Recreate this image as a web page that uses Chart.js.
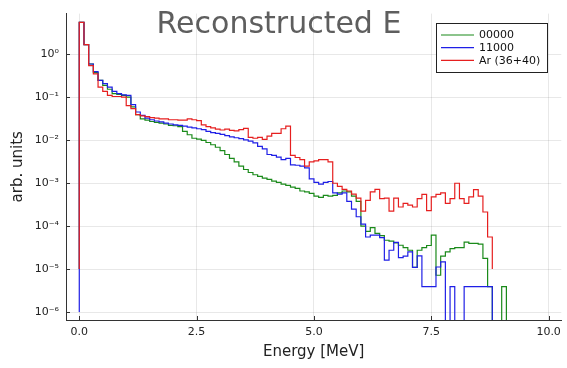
<!DOCTYPE html>
<html><head><meta charset="utf-8">
<script src="https://cdn.jsdelivr.net/npm/chart.js@4/dist/chart.umd.min.js"></script>
<style>html,body{margin:0;padding:0;background:#fff}#c{display:block}</style>
</head><body>
<canvas id="c" width="567" height="368"></canvas>
<script>
// Bin edges (MeV)
const binEdges = [0.0,0.1,0.2,0.3,0.4,0.5,0.6,0.7,0.8,0.9,1.0,1.1,1.2,1.3,1.4,1.5,1.6,1.7,1.8,1.9,
  2.0,2.1,2.2,2.3,2.4,2.5,2.6,2.7,2.8,2.9,3.0,3.1,3.2,3.3,3.4,3.5,3.6,3.7,3.8,3.9,
  4.0,4.1,4.2,4.3,4.4,4.5,4.6,4.7,4.8,4.9,5.0,5.1,5.2,5.3,5.4,5.5,5.6,5.7,5.8,5.9,
  6.0,6.1,6.2,6.3,6.4,6.5,6.6,6.7,6.8,6.9,7.0,7.1,7.2,7.3,7.4,7.5,7.6,7.7,7.8,7.9,
  8.0,8.1,8.2,8.3,8.4,8.5,8.6,8.7,8.8,8.9,9.0,9.1,9.2];

const seriesLabels = ['00000', '11000', 'Ar (36+40)'];

// bin contents (arb. units), 0 = empty bin
const values00000 = [5.6, 1.7, 0.6, 0.38, 0.25, 0.19, 0.155, 0.123, 0.117, 0.112,
 0.102, 0.06, 0.0398, 0.0316, 0.0295, 0.0275, 0.0263, 0.0251, 0.024, 0.0224,
 0.0219, 0.0209, 0.0162, 0.0135, 0.0112, 0.0107, 0.01, 0.0089, 0.0079, 0.0069,
 0.00575, 0.00468, 0.0038, 0.00316, 0.00251, 0.00209, 0.00178, 0.00158, 0.00145, 0.00132,
 0.00123, 0.00112, 0.00105, 0.00095, 0.00089, 0.00081, 0.00076, 0.00066, 0.00063, 0.00058,
 0.0005, 0.00047, 0.00052, 0.0005, 0.00052, 0.0006, 0.00066, 0.00063, 0.0005, 0.00038,
 1.0e-4, 7.6e-5, 9.3e-5, 6.8e-5, 6.0e-5, 4.7e-5, 4.5e-5, 4.1e-5, 3.6e-5, 3.16e-5,
 2.75e-5, 1.1e-5, 2.75e-5, 3.16e-5, 3.55e-5, 6.2e-5, 7.2e-6, 2.0e-5, 2.51e-5, 3.0e-5,
 3.16e-5, 3.16e-5, 4.27e-5, 3.98e-5, 3.98e-5, 3.8e-5, 1.78e-5, 3.9e-6, 0, 0,
 3.9e-6, 0];

const values11000 = [5.6, 1.7, 0.6, 0.4, 0.25, 0.209, 0.174, 0.138, 0.123, 0.115,
 0.112, 0.0676, 0.0457, 0.038, 0.0331, 0.0302, 0.0282, 0.0269, 0.0251, 0.024,
 0.0229, 0.0224, 0.0214, 0.0204, 0.0195, 0.0186, 0.0178, 0.0162, 0.0151, 0.0145,
 0.0138, 0.0129, 0.012, 0.0115, 0.011, 0.0102, 0.00955, 0.0087, 0.00724, 0.0063,
 0.00468, 0.00447, 0.00407, 0.00355, 0.0038, 0.00269, 0.00263, 0.00251, 0.00229, 0.00126,
 0.00105, 0.00095, 0.00105, 0.0011, 0.0006, 0.00056, 0.0006, 0.00038, 0.00025, 0.000166,
 1.12e-4, 5.6e-5, 6.2e-5, 6.2e-5, 5.4e-5, 1.62e-5, 2.75e-5, 4.2e-5, 1.86e-5, 2.0e-5,
 2.51e-5, 1.1e-5, 2.04e-5, 3.9e-6, 3.9e-6, 3.9e-6, 1.12e-5, 1.48e-5, 0, 3.9e-6,
 0, 0, 3.9e-6, 3.9e-6, 3.9e-6, 3.9e-6, 3.9e-6, 3.9e-6];

const valuesAr = [5.6, 1.7, 0.55, 0.355, 0.174, 0.138, 0.112, 0.105, 0.105, 0.102,
 0.0646, 0.055, 0.0398, 0.0372, 0.0355, 0.0339, 0.0331, 0.0316, 0.0316, 0.0302,
 0.0302, 0.0295, 0.0295, 0.0316, 0.0302, 0.0288, 0.0229, 0.0209, 0.0195, 0.0182,
 0.0174, 0.0182, 0.017, 0.0166, 0.0178, 0.0191, 0.0117, 0.0112, 0.0117, 0.0105,
 0.0126, 0.0145, 0.0145, 0.0186, 0.0214, 0.00447, 0.00398, 0.00355, 0.00251, 0.00316,
 0.00331, 0.00355, 0.00355, 0.00316, 0.001, 0.00085, 0.00072, 0.00066, 0.00056, 0.00045,
 0.000224, 0.000398, 0.00063, 0.00072, 0.00044, 0.00045, 0.000224, 0.00045, 0.00028, 0.00034,
 0.00031, 0.00028, 0.00044, 0.00055, 0.00023, 0.00048, 0.00055, 0.0006, 0.00034, 0.00044,
 0.001, 0.00044, 0.00034, 0.00048, 0.00071, 0.0005, 0.000214, 0.000056];

// where each step line starts (at the first edge) and ends (after the last bin)
const lineStart = [1e-5, 1e-6, 1e-5];
const lineEnd = [0, 0, 1e-5];

const seriesColors = ['#1a8a1a', '#1f1fe6', '#e61f1f'];

const xTickValues = [0, 2.5, 5, 7.5, 10];
const xTickLabels = ['0.0', '2.5', '5.0', '7.5', '10.0'];
const yTickValues = [1e-6, 1e-5, 1e-4, 1e-3, 1e-2, 1e-1, 1];
const yTickLabels = ['10\u207B\u2076', '10\u207B\u2075', '10\u207B\u2074', '10\u207B\u00B3', '10\u207B\u00B2', '10\u207B\u00B9', '10\u2070'];

const titleText = 'Reconstructed E';
const xTitle = 'Energy [MeV]';
const yTitle = 'arb. units';

const EMPTY = 1e-12; // empty bins fall below the visible range

function stepPoints(vals, start, end) {
  const pts = [{x: binEdges[0], y: start || EMPTY}];
  vals.forEach((v, i) => pts.push({x: binEdges[i], y: v > 0 ? v : EMPTY}));
  pts.push({x: binEdges[vals.length], y: end > 0 ? end : EMPTY});
  return pts;
}

const allValues = [values00000, values11000, valuesAr];
const datasets = allValues.map((vals, i) => ({
  label: seriesLabels[i],
  data: stepPoints(vals, lineStart[i], lineEnd[i]),
  borderColor: seriesColors[i],
  backgroundColor: seriesColors[i],
  borderWidth: 1.2,
  pointRadius: 0,
  stepped: true,
  fill: false,
  order: 3 - i
}));

const FONT = '"DejaVu Sans", sans-serif';

const decorPlugin = {
  id: 'decor',
  afterDraw(chart) {
    const ctx = chart.ctx;
    const xs = chart.scales.x, ys = chart.scales.y;
    const a = chart.chartArea;
    ctx.save();
    // inward tick marks
    ctx.strokeStyle = '#333';
    ctx.lineWidth = 1;
    ctx.beginPath();
    xTickValues.forEach(v => {
      const px = Math.round(xs.getPixelForValue(v)) + 0.5;
      ctx.moveTo(px, a.bottom); ctx.lineTo(px, a.bottom - 4);
    });
    yTickValues.forEach(v => {
      const py = Math.round(ys.getPixelForValue(v)) + 0.5;
      ctx.moveTo(a.left, py); ctx.lineTo(a.left + 4, py);
    });
    ctx.stroke();
    // title
    ctx.fillStyle = '#5e5e5e';
    ctx.font = '30px ' + FONT;
    ctx.textAlign = 'center';
    ctx.textBaseline = 'alphabetic';
    ctx.fillText(titleText, 279, 33);
    // legend
    const bx = 436.5, by = 23.5, bw = 111, bh = 49;
    ctx.fillStyle = '#fff';
    ctx.fillRect(bx, by, bw, bh);
    ctx.strokeStyle = '#222';
    ctx.strokeRect(bx, by, bw, bh);
    ctx.font = '11px ' + FONT;
    ctx.textAlign = 'left';
    ctx.textBaseline = 'middle';
    chart.data.datasets.forEach((ds, i) => {
      const ry = 35 + i * 12.7;
      ctx.strokeStyle = ds.borderColor;
      ctx.lineWidth = 1.2;
      ctx.beginPath();
      ctx.moveTo(441, ry); ctx.lineTo(474, ry);
      ctx.stroke();
      ctx.fillStyle = '#111';
      ctx.fillText(ds.label, 479, ry + 0.5);
    });
    ctx.restore();
  }
};

new Chart(document.getElementById('c'), {
  type: 'line',
  data: { datasets },
  plugins: [decorPlugin],
  options: {
    responsive: false,
    animation: false,
    devicePixelRatio: 1,
    parsing: true,
    layout: { padding: { left: 0, right: 5, top: 13, bottom: 0 } },
    plugins: { legend: { display: false }, title: { display: false }, tooltip: { enabled: false } },
    scales: {
      x: {
        type: 'linear',
        min: -0.283, max: 10.27,
        afterBuildTicks: s => { s.ticks = xTickValues.map(v => ({ value: v })); },
        afterFit: s => { s.height = 48; },
        grid: { color: 'rgba(0,0,0,0.09)', drawTicks: false, lineWidth: 1 },
        border: { display: true, color: '#333', width: 1 },
        ticks: {
          padding: 6, color: '#222', font: { family: FONT, size: 11 },
          maxRotation: 0, autoSkip: false,
          callback: (v, i) => xTickLabels[i]
        },
        title: { display: true, text: xTitle, color: '#222', font: { family: FONT, size: 15 }, padding: { top: 0, bottom: 7 } }
      },
      y: {
        type: 'logarithmic',
        min: 6.52e-7, max: 8.97,
        afterBuildTicks: s => { s.ticks = yTickValues.map(v => ({ value: v })); },
        afterFit: s => { s.width = 66; },
        grid: { color: 'rgba(0,0,0,0.09)', drawTicks: false, lineWidth: 1 },
        border: { display: true, color: '#333', width: 1 },
        ticks: {
          padding: 7, color: '#222', font: { family: FONT, size: 11 },
          autoSkip: false,
          callback: (v, i) => yTickLabels[i]
        },
        title: { display: true, text: yTitle, color: '#222', font: { family: FONT, size: 15 }, padding: { top: 9, bottom: 0 } }
      }
    }
  }
});
</script>
</body></html>
